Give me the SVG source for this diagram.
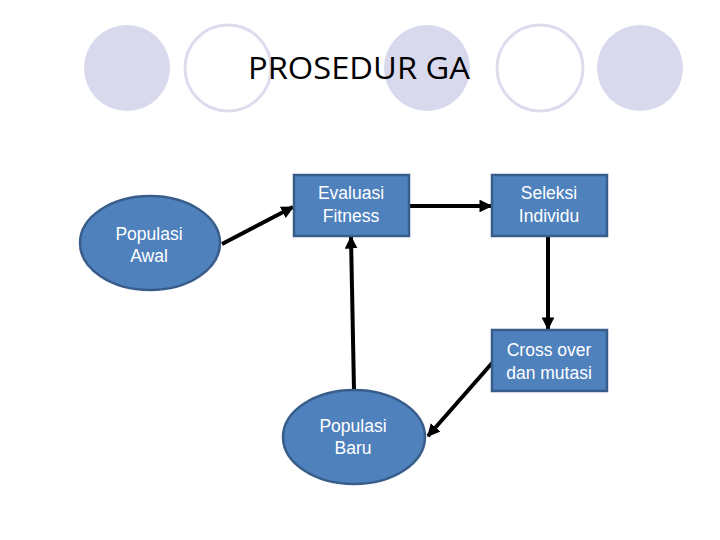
<svg xmlns="http://www.w3.org/2000/svg" width="720" height="540" viewBox="0 0 720 540">
<defs>
<style>
.deco-f{fill:#d9d9ee;stroke:none}
.deco-o{fill:#ffffff;stroke:#dcdcec;stroke-width:3}
.node{fill:#4f81bd;stroke:#385d8a;stroke-width:2.5}
.lbl{font-family:"Liberation Sans",Arial,sans-serif;font-size:17.5px;fill:#ffffff;text-anchor:middle}
.title{font-family:"Open Sans","Liberation Sans",sans-serif;font-size:31px;fill:#000000}
.edge{stroke:#000000;stroke-width:4;fill:none;marker-end:url(#arr)}
</style>
<marker id="arr" viewBox="0 0 10 10" refX="9" refY="5" markerWidth="3.2" markerHeight="3.2" orient="auto" markerUnits="strokeWidth">
<path d="M0,0 L10,5 L0,10 z" fill="#000000"/>
</marker>
</defs>
<rect width="720" height="540" fill="#ffffff"/>
<g id="decor">
<circle class="deco-f" cx="127" cy="68" r="43"/>
<circle class="deco-o" cx="228" cy="68" r="43"/>
<circle class="deco-f" cx="427" cy="68" r="43"/>
<circle class="deco-o" cx="540" cy="68" r="43"/>
<circle class="deco-f" cx="640" cy="68" r="43"/>
</g>
<text class="title" x="248" y="79" textLength="222" lengthAdjust="spacingAndGlyphs">PROSEDUR GA</text>
<g id="connectors">
<line class="edge" x1="222" y1="244" x2="293" y2="207"/>
<line class="edge" x1="409" y1="206" x2="491" y2="206"/>
<line class="edge" x1="548" y1="236" x2="548" y2="329"/>
<line class="edge" x1="493" y1="362" x2="428" y2="436"/>
<line class="edge" x1="354" y1="390" x2="351" y2="237"/>
</g>
<g id="populasi-awal">
<ellipse class="node" cx="150" cy="243" rx="70" ry="47"/>
<text class="lbl" x="149" y="240">Populasi</text>
<text class="lbl" x="149" y="262">Awal</text>
</g>
<g id="evaluasi-fitness">
<rect class="node" x="294" y="175" width="115" height="61"/>
<text class="lbl" x="351" y="199">Evaluasi</text>
<text class="lbl" x="351" y="222">Fitness</text>
</g>
<g id="seleksi-individu">
<rect class="node" x="492" y="175" width="115" height="61"/>
<text class="lbl" x="549" y="199">Seleksi</text>
<text class="lbl" x="549" y="222">Individu</text>
</g>
<g id="cross-over">
<rect class="node" x="492" y="330" width="115" height="61"/>
<text class="lbl" x="549" y="356">Cross over</text>
<text class="lbl" x="549" y="379">dan mutasi</text>
</g>
<g id="populasi-baru">
<ellipse class="node" cx="354" cy="437" rx="71" ry="47"/>
<text class="lbl" x="353" y="432">Populasi</text>
<text class="lbl" x="353" y="454">Baru</text>
</g>
</svg>
